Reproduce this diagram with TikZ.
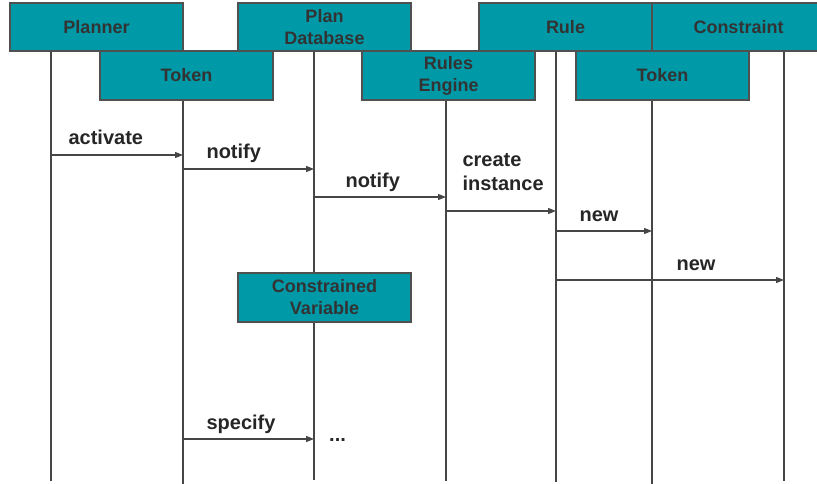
\documentclass[tikz,border=0pt]{standalone}
\usepackage{fontspec}
\setmainfont{Liberation Sans}
\usetikzlibrary{arrows.meta}
\definecolor{boxteal}{RGB}{0,153,168}
\definecolor{boxedge}{RGB}{80,80,80}
\definecolor{boxtext}{RGB}{51,51,51}
\definecolor{linegray}{RGB}{70,70,70}

\begin{document}
\begin{tikzpicture}[%
    x=1pt, y=-1pt,              % One unit is one pixel, top-down
    >={Triangle[length=8pt,width=6pt]},
    ]
% -------------------------------------------------
% Box and line styles
\tikzset{
  obj/.style={draw=boxedge, line width=1.3pt, fill=boxteal, rectangle,
    minimum width=173pt, minimum height=48pt, inner sep=0pt, align=center,
    text=boxtext, font={\fontsize{18}{22}\selectfont\bfseries}},
  life/.style={draw=linegray, line width=1.1pt},
  msg/.style={->, draw=linegray, line width=1.1pt},
  lbl/.style={anchor=base west, inner sep=0pt, align=left, text=black!85,
    font={\fontsize{20}{24}\selectfont\bfseries}}
}
\useasboundingbox (0,0) rectangle (817,484);
% -------------------------------------------------
% Lifelines first, so the boxes sit on top of them
\coordinate (planner-l) at (51,51);   \coordinate (planner-e) at (51,481);
\coordinate (token-l)   at (183,100); \coordinate (token-e)   at (183,484);
\coordinate (plandb-l)  at (314,51);  \coordinate (plandb-e)  at (314,480);
\coordinate (engine-l)  at (446,100); \coordinate (engine-e)  at (446,481);
\coordinate (rule-l)    at (556,51);  \coordinate (rule-e)    at (556,482);
\coordinate (tokenb-l)  at (652,100); \coordinate (tokenb-e)  at (652,484);
\coordinate (constr-l)  at (784,51);  \coordinate (constr-e)  at (784,481);

\draw [life] (planner-l) -- (planner-e);
\draw [life] (token-l) -- (token-e);
\draw [life] (plandb-l) -- (plandb-e);
\draw [life] (engine-l) -- (engine-e);
\draw [life] (rule-l) -- (rule-e);
\draw [life] (tokenb-l) -- (tokenb-e);
\draw [life] (constr-l) -- (constr-e);

% -------------------------------------------------
% Then the object boxes
\node [obj] (planner) at (96.5,27) {Planner};
\node [obj] (plandb) at (324.5,27) {Plan\\Database};
\node [obj] (rule) at (565.5,27) {Rule};
\node [obj, minimum width=173pt] (constraint) at (738.5,27) {Constraint};
\node [obj, minimum height=49pt] (token) at (186.5,75.5) {Token};
\node [obj, minimum height=49pt] (engine) at (448.5,75.5) {Rules\\Engine};
\node [obj, minimum height=49pt] (tokenb) at (662.5,75.5) {Token};
\node [obj, minimum height=49pt] (cvar) at (324.5,297.5) {Constrained\\Variable};

% -------------------------------------------------
% Messages
\coordinate (m1) at (0,155);
\coordinate (m2) at (0,169);
\coordinate (m3) at (0,197);
\coordinate (m4) at (0,211);
\coordinate (m5) at (0,231);
\coordinate (m6) at (0,280);
\coordinate (m7) at (0,439);

\draw [msg] (planner-l |- m1) -- node [lbl, pos=0, xshift=17pt, yshift=10pt]
  {activate} (token-l |- m1);
\draw [msg] (token-l |- m2) -- node [lbl, pos=0, xshift=23pt, yshift=10pt]
  {notify} (plandb-l |- m2);
\draw [msg] (plandb-l |- m3) -- node [lbl, pos=0, xshift=31pt, yshift=10pt]
  {notify} (engine-l |- m3);
\draw [msg] (engine-l |- m4) -- node [lbl, pos=0, xshift=16pt, yshift=21pt]
  {create\\instance} (rule-l |- m4);
\draw [msg] (rule-l |- m5) -- node [lbl, pos=0, xshift=23pt, yshift=10pt]
  {new} (tokenb-l |- m5);
\draw [msg] (rule-l |- m6) -- node [lbl, pos=0, xshift=120pt, yshift=10pt]
  {new} (constr-l |- m6);
\draw [msg] (token-l |- m7) -- node [lbl, pos=0, xshift=23pt, yshift=10pt]
  {specify} (plandb-l |- m7);
\node [lbl, anchor=west] (more) at (329,440) {...};

% -------------------------------------------------
\end{tikzpicture}
\end{document}
